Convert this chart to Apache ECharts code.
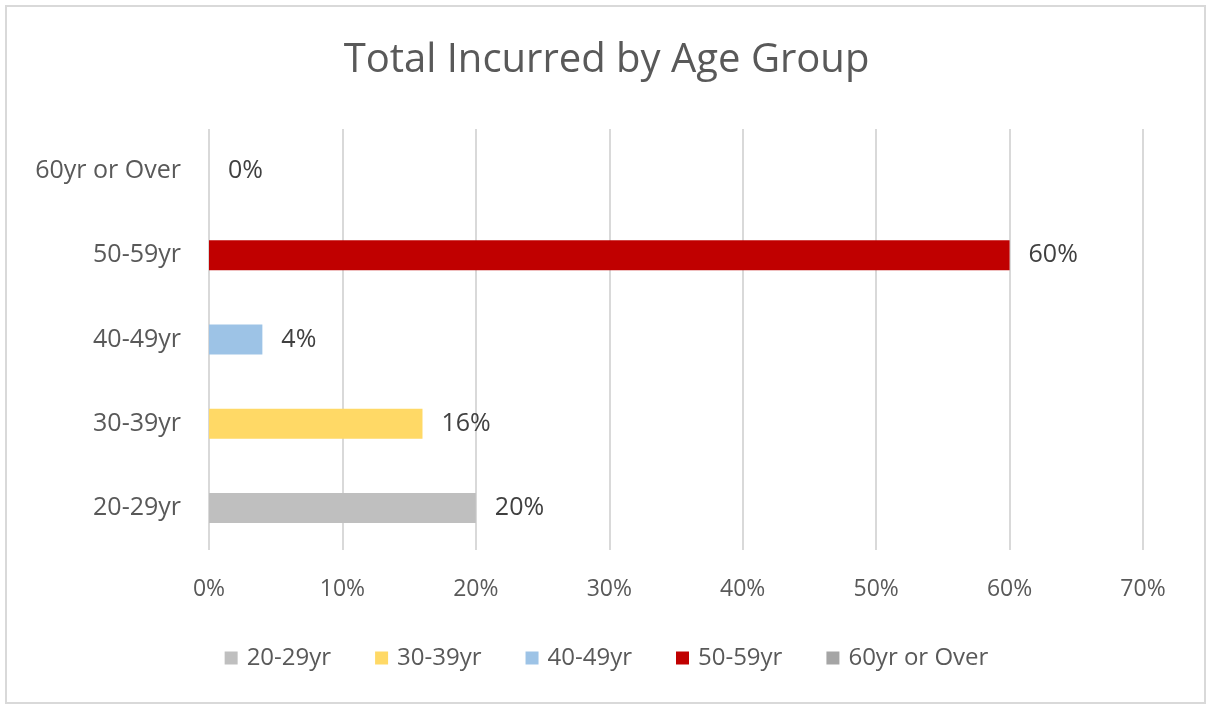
<!DOCTYPE html>
<html>
<head>
<meta charset="utf-8">
<script src="https://cdn.jsdelivr.net/npm/echarts@6/dist/echarts.min.js"></script>
<style>
html,body{margin:0;padding:0;background:#fff;}
#frame{position:absolute;left:5px;top:5px;width:1201px;height:699px;border:2px solid #d9d9d9;box-sizing:border-box;}
#chart{position:absolute;left:0;top:0;width:1213px;height:711px;}
</style>
</head>
<body>
<div id="frame"></div>
<div id="chart"></div>
<script>
const categories = ['20-29yr', '30-39yr', '40-49yr', '50-59yr', '60yr or Over'];
const values = [20, 16, 4, 60, 0];
const colors = ['#bfbfbf', '#ffd966', '#9dc3e6', '#c00000', '#a5a5a5'];
const xTicks = [0, 10, 20, 30, 40, 50, 60, 70];

const font = '"Open Sans", "Noto Sans", sans-serif';
const series = categories.map((name, i) => ({
  name: name,
  type: 'bar',
  stack: 'total',
  barWidth: 30,
  itemStyle: { color: colors[i] },
  label: {
    show: true,
    position: 'right',
    distance: 19,
    formatter: p => p.value + '%',
    color: '#404040',
    fontSize: 25,
    fontFamily: font,
    padding: [4, 0, 0, 0]
  },
  data: categories.map((c, j) => (j === i ? values[i] : null))
}));

const chart = echarts.init(document.getElementById('chart'), null, { renderer: 'canvas' });
chart.setOption({
  animation: false,
  backgroundColor: 'transparent',
  title: {
    text: 'Total Incurred by Age Group',
    left: 'center',
    top: 36,
    textStyle: { color: '#595959', fontSize: 40, fontWeight: 'normal', fontFamily: font }
  },
  legend: {
    bottom: 36,
    left: 'center',
    itemWidth: 13,
    itemHeight: 13,
    itemGap: 44,
    icon: 'rect',
    textStyle: { color: '#595959', fontSize: 24, fontFamily: font, padding: [0, 0, 0, 4] },
    data: categories
  },
  grid: { left: 209, right: 70, top: 129, bottom: 161, containLabel: false },
  xAxis: {
    type: 'value',
    min: xTicks[0],
    max: xTicks[xTicks.length - 1],
    interval: 10,
    axisLine: { show: false },
    axisTick: { show: false },
    splitLine: { lineStyle: { color: '#d9d9d9', width: 2 } },
    axisLabel: { formatter: '{value}%', color: '#595959', fontSize: 23, fontFamily: font, margin: 28 }
  },
  yAxis: {
    type: 'category',
    data: categories,
    axisLine: { show: false },
    axisTick: { show: false },
    axisLabel: { color: '#595959', fontSize: 25, fontFamily: font, margin: 28, padding: [4, 0, 0, 0] }
  },
  series: series
});
</script>
</body>
</html>
